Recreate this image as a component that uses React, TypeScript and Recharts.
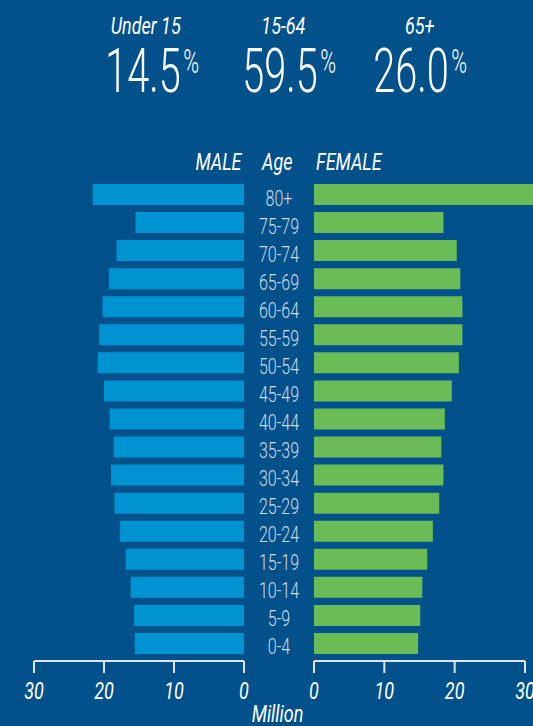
// Population pyramid: male bars to the left, female bars to the right,
// age groups in the middle, share by broad age group on top.
import { BarChart, Bar, XAxis, YAxis } from "recharts";

const ages = ["80+", "75-79", "70-74", "65-69", "60-64", "55-59", "50-54", "45-49", "40-44", "35-39", "30-34", "25-29", "20-24", "15-19", "10-14", "5-9", "0-4"];
const male = [21.6, 15.5, 18.2, 19.3, 20.2, 20.7, 20.9, 20.0, 19.2, 18.6, 19.0, 18.5, 17.7, 16.9, 16.2, 15.7, 15.6];
const female = [33.0, 18.4, 20.3, 20.8, 21.1, 21.1, 20.6, 19.6, 18.6, 18.1, 18.4, 17.8, 16.9, 16.1, 15.4, 15.1, 14.8];
const xTicks = [0, 10, 20, 30];
const groups = ["Under 15", "15-64", "65+"];
const shares = ["14.5", "59.5", "26.0"];

const BG = "#02518a";
const BLUE = "#0093d2";
const GREEN = "#6abd56";
const LINE = "#dde5ee";
const FONT = "Roboto, sans-serif";

const data = ages.map((age, i) => ({ age, male: male[i], female: female[i] }));

const groupCenters = [146, 283, 420];
const numberCenters = [152, 289, 420];

// million scale is 7.03 px per unit on both sides
const PX_PER_MILLION = 211 / 30;
const femaleMax = Math.max(...female);

function MillionTick({ x, y, payload }: any) {
  return (
    <g transform={`translate(${x},${y})`}>
      <text transform="scale(0.75,1)" textAnchor="middle" dy="0.71em" fill="#fff" fontSize={24} fontStyle="italic" fontFamily={FONT}>
        {payload.value}
      </text>
    </g>
  );
}

function AgeTick({ x, y, payload }: any) {
  return (
    <g transform={`translate(${x},${y})`}>
      <text transform="scale(0.73,1)" textAnchor="middle" dy={11.5} fill="#cfdbe8" fontSize={22} fontWeight={300} fontFamily={FONT}>
        {payload.value}
      </text>
    </g>
  );
}

const squeeze = (sx: number, origin = "center") => ({
  display: "inline-block",
  transform: `scaleX(${sx})`,
  transformOrigin: origin,
  whiteSpace: "nowrap" as const,
});

function Label({ text, left, top, align }: { text: string; left: number; top: number; align: "left" | "right" | "center" }) {
  const width = 160;
  const x = align === "center" ? left - width / 2 : align === "right" ? left - width : left;
  return (
    <div style={{ position: "absolute", left: x, top, width, textAlign: align, fontFamily: FONT, fontStyle: "italic", fontSize: 24, lineHeight: "24px", height: 24, color: "#fff" }}>
      <span style={squeeze(0.75, align)}>{text}</span>
    </div>
  );
}

const axisProps = {
  type: "number" as const,
  ticks: xTicks,
  interval: 0 as const,
  height: 65,
  tickSize: 12,
  tickMargin: 9,
  axisLine: { stroke: LINE, strokeWidth: 2 },
  tickLine: { stroke: LINE, strokeWidth: 2 },
  tick: <MillionTick />,
};

export default function App() {
  return (
    <div style={{ position: "absolute", left: 0, top: 0, width: 533, height: 726, background: BG, overflow: "hidden" }}>
      {groups.map((g, i) => (
        <Label key={g} text={g} left={groupCenters[i]} top={14} align="center" />
      ))}
      {shares.map((s, i) => (
        <div key={s} style={{ position: "absolute", left: numberCenters[i] - 90, top: 41, width: 180, textAlign: "center", color: "#fff", fontFamily: FONT, fontWeight: 300, lineHeight: 1 }}>
          <span style={squeeze(0.65)}>
            <span style={{ fontSize: 61 }}>{s}</span>
            <span style={{ fontSize: 33, verticalAlign: "top", position: "relative", top: 4, marginLeft: 4 }}>%</span>
          </span>
        </div>
      ))}

      <Label text="MALE" left={241} top={150} align="right" />
      <Label text="Age" left={277} top={150} align="center" />
      <Label text="FEMALE" left={316} top={150} align="left" />
      <Label text="Million" left={278} top={702} align="center" />

      {/* male side */}
      <div style={{ position: "absolute", left: 0, top: 0 }}>
        <BarChart layout="vertical" width={250} height={726} data={data} margin={{ top: 180, right: 6, bottom: 0, left: 34 }}>
          <XAxis {...axisProps} reversed domain={[0, 30]} />
          <YAxis type="category" dataKey="age" hide padding={{ top: 0, bottom: 4 }} />
          <Bar dataKey="male" fill={BLUE} barSize={21} isAnimationActive={false} />
        </BarChart>
      </div>

      {/* female bars: the 80+ bar runs past the 30 tick and off the page */}
      <div style={{ position: "absolute", left: 244, top: 0 }}>
        <BarChart layout="vertical" width={70 + femaleMax * PX_PER_MILLION} height={726} data={data} margin={{ top: 180, right: 0, bottom: 0, left: 0 }}>
          <XAxis type="number" domain={[0, "dataMax"]} height={65} axisLine={false} tickLine={false} tick={false} />
          <YAxis
            type="category"
            dataKey="age"
            width={70}
            tickSize={0}
            tickMargin={35}
            axisLine={false}
            tickLine={false}
            interval={0}
            tick={<AgeTick />}
            padding={{ top: 0, bottom: 4 }}
          />
          <Bar dataKey="female" fill={GREEN} barSize={21} isAnimationActive={false} />
        </BarChart>
      </div>

      {/* female axis, 0 to 30 */}
      <div style={{ position: "absolute", left: 244, top: 0, pointerEvents: "none" }}>
        <BarChart layout="vertical" width={70 + 30 * PX_PER_MILLION + 14} height={726} data={data} margin={{ top: 180, right: 14, bottom: 0, left: 70 }}>
          <XAxis {...axisProps} domain={[0, 30]} allowDataOverflow />
          <YAxis type="category" dataKey="age" hide />
        </BarChart>
      </div>
    </div>
  );
}
